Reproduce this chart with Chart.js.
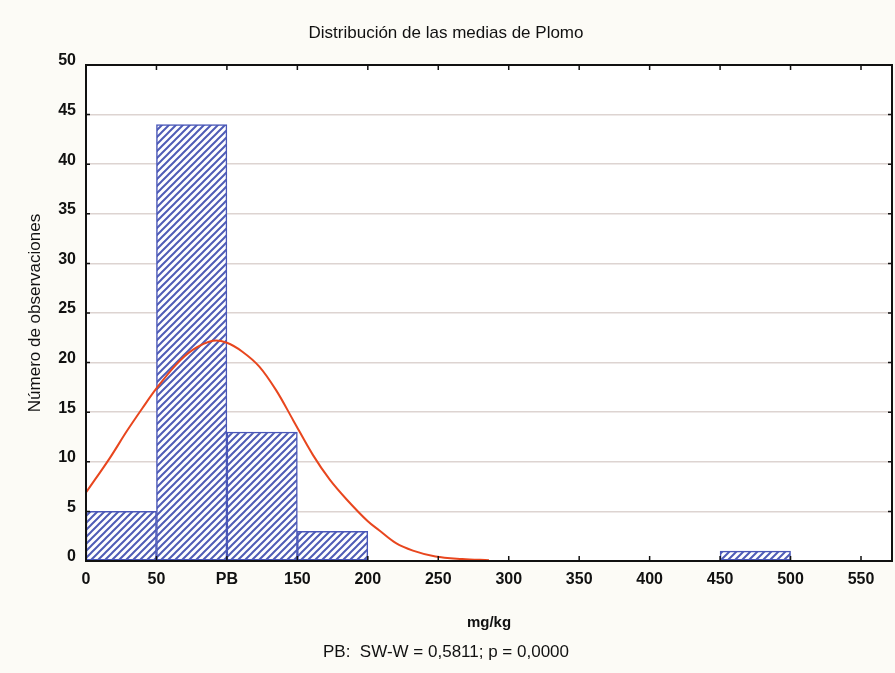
<!DOCTYPE html>
<html>
<head>
<meta charset="utf-8">
<script src="https://cdn.jsdelivr.net/npm/chart.js@4"></script>
<style>
  html, body { margin: 0; padding: 0; background: #fcfbf6; }
  #wrap { width: 895px; height: 673px; }
</style>
</head>
<body>
<div id="wrap"><canvas id="chart" width="895" height="673"></canvas></div>
<script>
// histogram bins (mg/kg), lower edges and counts
const binStarts = [0, 50, 100, 150, 200, 250, 300, 350, 400, 450, 500];
const binCounts = [5, 44, 13, 3, 0, 0, 0, 0, 0, 1, 0];
const binWidth = 50;

// fitted normal curve
const curveX = [0, 17, 29, 40, 50, 64, 76, 90, 100, 111, 123, 135, 147, 161, 173, 185, 200, 208, 220, 232, 248, 267, 286];
const curveY = [6.9, 10.4, 13.1, 15.4, 17.4, 19.8, 21.3, 22.2, 22.0, 21.1, 19.6, 17.2, 14.2, 10.7, 8.2, 6.2, 4.0, 3.1, 1.8, 1.05, 0.45, 0.2, 0.08];

const titleText = 'Distribución de las medias de Plomo';
const xTitle = 'mg/kg';
const yTitle = 'Número de observaciones';
const footText = 'PB:  SW-W = 0,5811; p = 0,0000';

const FONT = "'Liberation Sans', Arial, sans-serif";

// diagonal hatch for the bars
function makeHatch() {
  const s = 7;
  const c = document.createElement('canvas');
  c.width = s;
  c.height = s;
  const g = c.getContext('2d');
  g.fillStyle = '#ffffff';
  g.fillRect(0, 0, s, s);
  g.strokeStyle = '#4f5cb6';
  g.lineWidth = 2;
  g.beginPath();
  g.moveTo(0, s); g.lineTo(s, 0);
  g.moveTo(-s / 2, s / 2); g.lineTo(s / 2, -s / 2);
  g.moveTo(s / 2, s * 1.5); g.lineTo(s * 1.5, s / 2);
  g.stroke();
  return g.createPattern(c, 'repeat');
}

// white plot area, black frame and inward tick marks
const framePlugin = {
  id: 'frame',
  beforeDraw(chart) {
    const { ctx, chartArea: a } = chart;
    ctx.save();
    ctx.fillStyle = '#fcfbf6';
    ctx.fillRect(0, 0, chart.width, chart.height);
    ctx.fillStyle = '#ffffff';
    ctx.fillRect(a.left, a.top, a.right - a.left, a.bottom - a.top);
    ctx.restore();
  },
  afterDatasetsDraw(chart) {
    const { ctx, chartArea: a, scales } = chart;
    ctx.save();
    ctx.strokeStyle = '#111';
    ctx.lineWidth = 2;
    ctx.strokeRect(a.left, a.top, a.right - a.left, a.bottom - a.top);
    ctx.lineWidth = 1.5;
    ctx.beginPath();
    scales.x.ticks.forEach(t => {
      const px = scales.x.getPixelForValue(t.value);
      ctx.moveTo(px, a.bottom); ctx.lineTo(px, a.bottom - 5);
      ctx.moveTo(px, a.top); ctx.lineTo(px, a.top + 5);
    });
    scales.y.ticks.forEach(t => {
      const py = scales.y.getPixelForValue(t.value);
      ctx.moveTo(a.left, py); ctx.lineTo(a.left + 4, py);
      ctx.moveTo(a.right, py); ctx.lineTo(a.right - 4, py);
    });
    ctx.stroke();
    ctx.restore();
  }
};

const barData = binStarts.map((s, i) => ({ x: s + binWidth / 2, y: binCounts[i] }));
const curveData = curveX.map((x, i) => ({ x, y: curveY[i] }));

new Chart(document.getElementById('chart'), {
  type: 'bar',
  data: {
    datasets: [
      {
        type: 'line',
        data: curveData,
        borderColor: '#e8461e',
        borderWidth: 2,
        pointRadius: 0,
        tension: 0.35,
        order: 0
      },
      {
        type: 'bar',
        data: barData,
        backgroundColor: makeHatch(),
        borderColor: '#4a57b8',
        borderWidth: ctx => (ctx.raw && ctx.raw.y ? 1.5 : 0),
        borderSkipped: false,
        categoryPercentage: 1,
        barPercentage: 1,
        order: 1
      }
    ]
  },
  options: {
    responsive: false,
    animation: false,
    events: [],
    layout: { padding: { top: 4, right: 3, left: 0, bottom: 0 } },
    plugins: {
      legend: { display: false },
      tooltip: { enabled: false },
      title: {
        display: true,
        text: titleText,
        color: '#111',
        font: { family: FONT, size: 17, weight: 'normal' },
        padding: { top: 18.8, bottom: 21.8 }
      },
      subtitle: {
        display: true,
        position: 'bottom',
        text: footText,
        color: '#111',
        font: { family: FONT, size: 17, weight: 'normal' },
        padding: { top: 5, bottom: 10.8 }
      }
    },
    scales: {
      x: {
        type: 'linear',
        min: 0,
        max: 572,
        offset: false,
        afterFit: s => { s.height = 75.8; },
        grid: { display: false, drawTicks: false, offset: false },
        border: { display: false },
        ticks: {
          stepSize: 50,
          includeBounds: false,
          autoSkip: false,
          maxRotation: 0,
          padding: 9,
          color: '#111',
          font: { family: FONT, size: 16, weight: 'bold' },
          callback: v => (v === 100 ? 'PB' : String(v))
        },
        title: {
          display: true,
          text: xTitle,
          color: '#111',
          font: { family: FONT, size: 15, weight: 'bold' },
          padding: { top: 0, bottom: 4.8 }
        }
      },
      y: {
        min: 0,
        max: 50,
        afterFit: s => { s.width = 86; },
        grid: { color: '#ddd4d1', lineWidth: 1.5, drawTicks: false },
        border: { display: false },
        ticks: {
          stepSize: 5,
          padding: 10,
          labelOffset: -4,
          color: '#111',
          font: { family: FONT, size: 16, weight: 'bold' }
        },
        title: {
          display: true,
          text: yTitle,
          color: '#111',
          font: { family: FONT, size: 17, weight: 'normal' },
          padding: { top: 25, bottom: 0 }
        }
      }
    }
  },
  plugins: [framePlugin]
});
</script>
</body>
</html>
